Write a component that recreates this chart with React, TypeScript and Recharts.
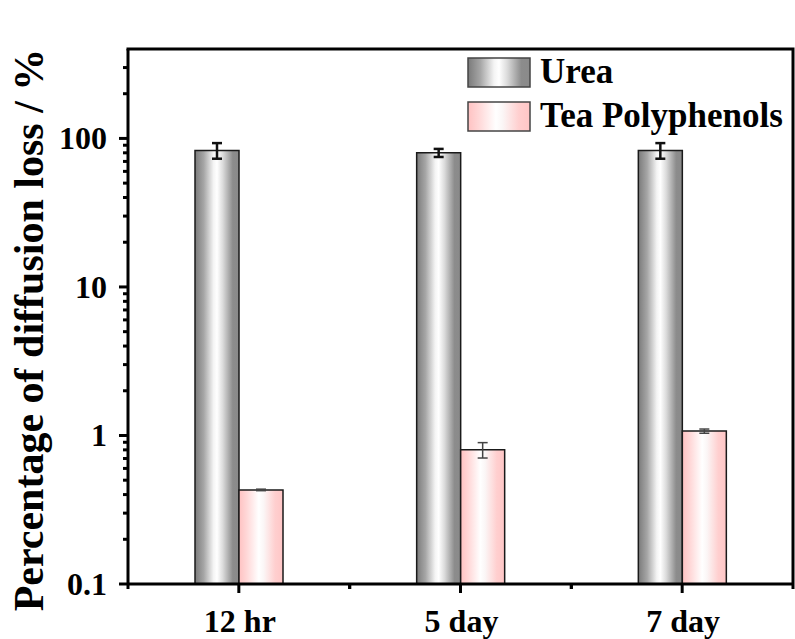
import React from 'react';
import { BarChart, Bar, XAxis, YAxis, ErrorBar } from 'recharts';

const categories = ['12 hr', '5 day', '7 day'];
const ureaValues = [83, 80, 83];
const ureaErrors = [10, 5, 10];
const teaValues = [0.43, 0.8, 1.07];
const teaErrors = [0.005, 0.095, 0.035];

const seriesNames = ['Urea', 'Tea Polyphenols'];
const majorTicks = [0.1, 1, 10, 100];
const majorLabels = ['0.1', '1', '10', '100'];
const minorTicks = [
  0.2, 0.3, 0.4, 0.5, 0.6, 0.7, 0.8, 0.9,
  2, 3, 4, 5, 6, 7, 8, 9,
  20, 30, 40, 50, 60, 70, 80, 90,
  200, 300,
];
const yDomain = [0.1, 400];

const W = 795;
const H = 639;
const M = { top: 49, right: 2, left: 0, bottom: 0 };
const Y_W = 128;
const X_H = 55;
const PLOT_W = W - Y_W - M.right;
const PLOT_H = H - M.top - X_H;
const FONT = "'Times New Roman', 'Liberation Serif', serif";

const data = categories.map((c, i) => ({
  name: c,
  urea: ureaValues[i],
  ureaErr: ureaErrors[i],
  tea: teaValues[i],
  teaErr: teaErrors[i],
}));

const yTicks = [...majorTicks, ...minorTicks].sort((a, b) => a - b);

const YTick = (props: any) => {
  const { x, y, payload } = props;
  const idx = majorTicks.indexOf(payload.value);
  const major = idx >= 0;
  return (
    <g>
      <line x1={x} x2={x - (major ? 9 : 5)} y1={y} y2={y} stroke="#000" strokeWidth={3} />
      {major && (
        <text x={x - 21} y={y + 11} textAnchor="end" fontFamily={FONT} fontWeight="bold" fontSize={32} fill="#000">
          {majorLabels[idx]}
        </text>
      )}
    </g>
  );
};

const XTick = (props: any) => {
  const { x, y, payload } = props;
  const band = PLOT_W / categories.length;
  return (
    <g>
      <line x1={x} x2={x} y1={y} y2={y + 9} stroke="#000" strokeWidth={3} />
      <line x1={x - band / 2} x2={x - band / 2} y1={y} y2={y + 5} stroke="#000" strokeWidth={3} />
      <line x1={x + band / 2} x2={x + band / 2} y1={y} y2={y + 5} stroke="#000" strokeWidth={3} />
      <text x={x + 1} y={y + 48} textAnchor="middle" fontFamily={FONT} fontWeight="bold" fontSize={32} fill="#000">
        {payload.value}
      </text>
    </g>
  );
};

const YLabel = () => (
  <text
    x={43}
    y={330}
    transform="rotate(-90 43 330)"
    textAnchor="middle"
    fontFamily={FONT}
    fontWeight="bold"
    fontSize={42}
    fill="#000"
  >
    Percentage of diffusion loss / %
  </text>
);

const GradDefs = ({ prefix }: { prefix: string }) => (
  <defs>
    <linearGradient id={`${prefix}urea`} x1="0" y1="0" x2="1" y2="0">
      <stop offset="0" stopColor="#7a7a7a" />
      <stop offset="0.2" stopColor="#a6a6a6" />
      <stop offset="0.42" stopColor="#f4f4f4" />
      <stop offset="0.5" stopColor="#ffffff" />
      <stop offset="0.63" stopColor="#dcdcdc" />
      <stop offset="0.86" stopColor="#8c8c8c" />
      <stop offset="1" stopColor="#8a8a8a" />
    </linearGradient>
    <linearGradient id={`${prefix}tea`} x1="0" y1="0" x2="1" y2="0">
      <stop offset="0" stopColor="#ffc2c2" />
      <stop offset="0.18" stopColor="#ffd8d8" />
      <stop offset="0.45" stopColor="#ffffff" />
      <stop offset="0.56" stopColor="#fbf6f6" />
      <stop offset="0.82" stopColor="#ffcfcf" />
      <stop offset="1" stopColor="#ffc6c6" />
    </linearGradient>
  </defs>
);

export default function App() {
  const left = M.left + Y_W;
  return (
    <div style={{ position: 'absolute', left: 0, top: 0, width: W, height: H, background: '#fff' }}>
      <BarChart width={W} height={H} data={data} margin={M} barGap={0} barSize={44}>
        <GradDefs prefix="bar-" />
        <XAxis
          dataKey="name"
          height={X_H}
          axisLine={{ stroke: '#000', strokeWidth: 3 }}
          tickLine={false}
          tickSize={0}
          tickMargin={0}
          interval={0}
          tick={<XTick />}
        />
        <YAxis
          scale="log"
          domain={yDomain}
          allowDataOverflow
          ticks={yTicks}
          interval={0}
          width={Y_W}
          axisLine={{ stroke: '#000', strokeWidth: 3 }}
          tickLine={false}
          tickSize={0}
          tickMargin={0}
          tick={<YTick />}
          label={{ content: () => <YLabel /> }}
        />
        <Bar dataKey="urea" name={seriesNames[0]} fill="url(#bar-urea)" stroke="#1a1a1a" strokeWidth={1.5} isAnimationActive={false}>
          <ErrorBar dataKey="ureaErr" width={5} stroke="#111" strokeWidth={2.5} />
        </Bar>
        <Bar dataKey="tea" name={seriesNames[1]} fill="url(#bar-tea)" stroke="#1a1a1a" strokeWidth={1.5} isAnimationActive={false}>
          <ErrorBar dataKey="teaErr" width={5} stroke="#444" strokeWidth={1.5} />
        </Bar>
      </BarChart>
      <svg width={W} height={H} style={{ position: 'absolute', left: 0, top: 0, pointerEvents: 'none' }}>
        <GradDefs prefix="leg-" />
        {/* top and right frame of the plot box */}
        <path
          d={`M${left - 1.5},${M.top} H${left + PLOT_W} V${M.top + PLOT_H}`}
          fill="none"
          stroke="#000"
          strokeWidth={3}
        />
        {seriesNames.map((n, i) => (
          <g key={n}>
            <rect
              x={468}
              y={58 + i * 44}
              width={62}
              height={29}
              fill={i === 0 ? 'url(#leg-urea)' : 'url(#leg-tea)'}
              stroke="#444"
              strokeWidth={1.5}
            />
            <text x={540} y={83 + i * 44} fontFamily={FONT} fontWeight="bold" fontSize={35} fill="#000">
              {n}
            </text>
          </g>
        ))}
      </svg>
    </div>
  );
}
